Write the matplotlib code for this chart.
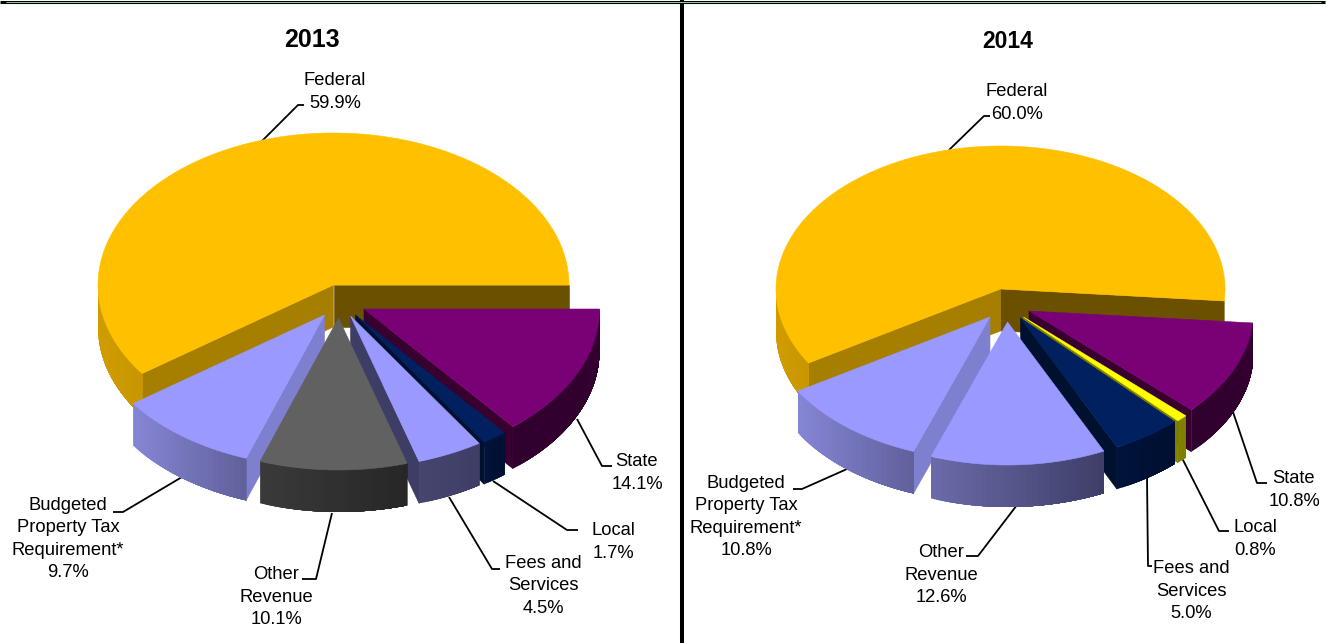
import numpy as np
import matplotlib
matplotlib.use("Agg")
import matplotlib.pyplot as plt
from matplotlib.colors import to_rgb
from matplotlib.patches import Polygon

plt.rcParams['font.family'] = ['Liberation Sans', 'DejaVu Sans']

# ---- data ----
categories = ["Federal", "Budgeted", "Other", "Fees", "Local", "State"]
values_2013 = [59.9, 9.7, 10.1, 4.5, 1.7, 14.1]
values_2014 = [60.0, 10.8, 12.6, 5.0, 0.8, 10.8]
title_2013 = "2013"
title_2014 = "2014"
labels_2013 = ["Federal\n59.9%", "Budgeted\nProperty Tax\nRequirement*\n9.7%", "Other\nRevenue\n10.1%",
               "Fees and\nServices\n4.5%", "Local\n1.7%", "State\n14.1%"]
labels_2014 = ["Federal\n60.0%", "Budgeted\nProperty Tax\nRequirement*\n10.8%", "Other\nRevenue\n12.6%",
               "Fees and\nServices\n5.0%", "Local\n0.8%", "State\n10.8%"]

# ---- style ----
W, H = 1329, 643
DEPTH = 42
GOLD = dict(top="#FFC000", wall=("#D09C00", "#C79600"), start="#6B5000", end="#A67E00")
LAV = dict(top="#9999FF", wall=("#8585D6", "#5F5F99"), start="#3D3D66", end="#7F7FD0")
LAV2 = dict(top="#9999FF", wall=("#6A6AAA", "#3D3D66"), start="#3D3D66", end="#7F7FD0")
LAV3 = dict(top="#9999FF", wall=("#45456F", "#3D3D66"), start="#3D3D66", end="#7F7FD0")
GREY = dict(top="#616161", wall=("#3A3A3A", "#262626"), start="#2A2A2A", end="#3A3A3A")
NAVY = dict(top="#002060", wall=("#00133A", "#000F30"), start="#00102F", end="#00102F")
YEL = dict(top="#FFFF00", wall=("#808000", "#808000"), start="#808000", end="#808000")
PUR = dict(top="#7A0076", wall=("#30002E", "#33002F"), start="#38002F", end="#38002F")

panel_2013 = dict(cx=333.5, cy=285, rx=235.5, ry=152, start=0.0,
                  offsets=[(0, 0), (-9, 30), (5, 33), (17, 31), (22, 30), (30.5, 24)],
                  styles=[GOLD, LAV, GREY, LAV3, NAVY, PUR])
panel_2014 = dict(cx=1000.5, cy=289, rx=224.5, ry=143, start=-4.8,
                  offsets=[(0, 0), (-10.5, 28), (7, 33), (20, 29), (23, 28), (28.5, 22)],
                  styles=[GOLD, LAV, LAV2, NAVY, YEL, PUR])
DRAW_ORDER = [0, 5, 4, 3, 1, 2]

text_2013 = [((335, 92), "center"), ((68, 539), "center"), ((276, 597), "center"),
             ((543, 586), "center"), ((613, 542), "center"), ((637, 473), "center")]
text_2014 = [((1017, 103), "center"), ((746, 517), "center"), ((941, 575), "center"),
             ((1191, 591), "center"), ((1255, 539), "center"), ((1294, 490), "center")]
leaders_2013 = [[(262, 141), (298, 105), (304, 105)], [(182, 477), (123, 512), (113, 512)],
                [(332, 513), (316, 579), (302, 579)], [(449, 497), (492, 569), (500, 569)],
                [(493, 481), (567, 530), (578, 530)], [(577, 419), (602, 466), (612, 466)]]
leaders_2014 = [[(949, 150), (984, 116), (990, 116)], [(847, 469), (802, 489), (793, 489)],
                [(1017, 505), (978, 556), (966, 556)], [(1147, 477), (1148, 566), (1152, 566)],
                [(1182, 458), (1219, 531), (1229, 531)], [(1233, 412), (1257, 483), (1267, 483)]]


def mix(a, b, t):
    a, b = np.array(to_rgb(a)), np.array(to_rgb(b))
    return tuple(a + (b - a) * t)


def draw_slice(ax, p, a1, a2, off, st, z):
    ox, oy = p["cx"] + off[0], p["cy"] + off[1]

    def pt(a, r=1.0):
        t = np.radians(a)
        return ox + r * p["rx"] * np.cos(t), oy - r * p["ry"] * np.sin(t)

    def quad(P, color, zz, lw=0.4):
        ax.add_patch(Polygon(P, closed=True, fc=color, ec=color if lw else "none", lw=lw, zorder=zz))

    # cut faces that look toward the viewer
    for a, col, vis in ((a1, st["start"], np.cos(np.radians(a1)) > 0),
                        (a2, st["end"], np.cos(np.radians(a2)) < 0)):
        if vis:
            x, y = pt(a)
            quad([(ox, oy), (x, y), (x, y + DEPTH), (ox, oy + DEPTH)], col, z)
    # outer wall, only the front part of the rim
    lo, hi = max(a1, 180), min(a2, 360)
    if hi > lo:
        edges = np.linspace(lo, hi, int((hi - lo) / 1.5) + 2)
        xs = np.array([pt(a)[0] for a in edges])
        # strips are painted from their own edge to the end of the arc, so no seams show
        for i in range(len(edges) - 1):
            t = (xs[i] - xs.min()) / max(xs.max() - xs.min(), 1)
            rest = edges[i:]
            upper = [pt(a) for a in rest]
            lower = [(x, y + DEPTH) for x, y in upper][::-1]
            quad(upper + lower, mix(st["wall"][0], st["wall"][1], t), z + 0.1 + 0.001 * i, lw=0)
    # top
    arc = np.linspace(a1, a2, max(int((a2 - a1) * 2), 4))
    top = [(ox, oy)] + [pt(a) for a in arc]
    quad(top, st["top"], z + 0.5)


def draw_pie(ax, values, p, title, title_xy, title_size, labels, text_pos, leaders):
    v = np.array(values, dtype=float)
    angles = p["start"] + np.concatenate(([0], np.cumsum(v))) / v.sum() * 360
    for n, i in enumerate(DRAW_ORDER):
        draw_slice(ax, p, angles[i], angles[i + 1], p["offsets"][i], p["styles"][i], 2 + n)
    for lab, (xy, ha), line in zip(labels, text_pos, leaders):
        ax.text(xy[0], xy[1], lab, ha=ha, va="center", fontsize=13.2, linespacing=1.41,
                color="black", zorder=20)
        ax.plot(*zip(*line), color="black", lw=1.3, zorder=1, solid_capstyle="butt")
    ax.text(title_xy[0], title_xy[1], title, ha="center", va="center", fontsize=title_size,
            fontweight="bold", zorder=20)


fig = plt.figure(figsize=(W / 100, H / 100), dpi=100, facecolor="white")
ax = fig.add_axes([0, 0, 1, 1])
ax.set_xlim(0, W)
ax.set_ylim(H, 0)
ax.axis("off")

draw_pie(ax, values_2013, panel_2013, title_2013, (312, 40), 18, labels_2013, text_2013, leaders_2013)
draw_pie(ax, values_2014, panel_2014, title_2014, (1008, 42), 16.5, labels_2014, text_2014, leaders_2014)

# frame lines of the table holding the charts
ax.plot([0, W - 4], [1.5, 1.5], color="black", lw=2.2, zorder=30, solid_capstyle="butt")
ax.plot([6, W - 8], [1.5, 1.5], color="#A8F0A8", lw=0.6, zorder=31, solid_capstyle="butt")
ax.plot([682, 682], [0, H], color="black", lw=2.9, zorder=30, solid_capstyle="butt")

fig.savefig("out.png", dpi=100, facecolor="white")
